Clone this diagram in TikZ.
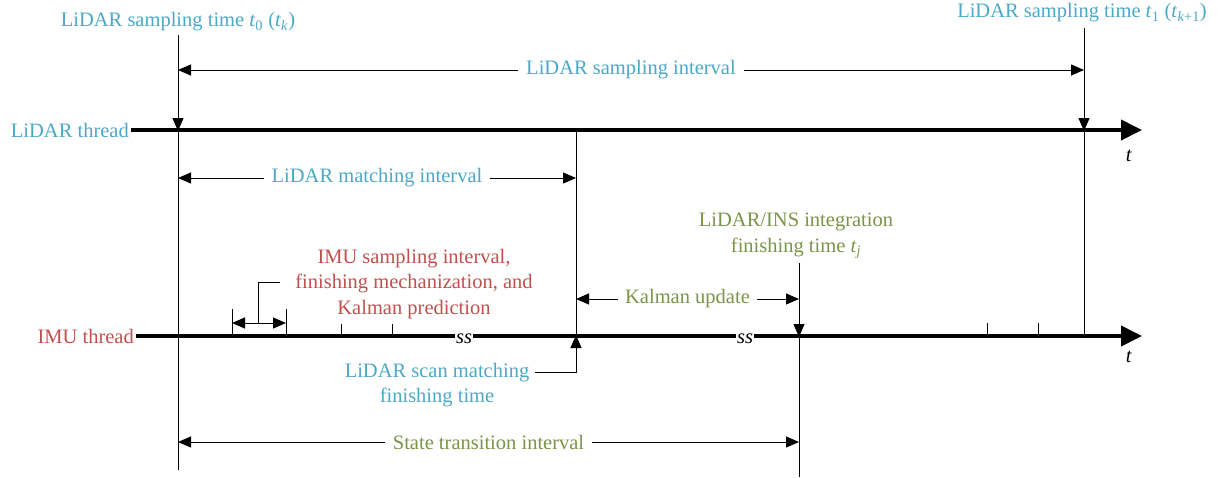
\documentclass[tikz,border=0pt]{standalone}
\usepackage{fontspec}
\setmainfont{Liberation Serif}
\usetikzlibrary{arrows.meta}
\definecolor{lblue}{RGB}{75,168,198}
\definecolor{lred}{RGB}{192,80,77}
\definecolor{lgreen}{RGB}{122,148,72}
\newcommand{\tv}[1]{\textit{t}\textsubscript{#1}}
\begin{document}
\begin{tikzpicture}[x=1pt,y=-1pt,font=\fontsize{20.5}{25.5}\selectfont,
  thread/.style={line width=3.8pt,-{Triangle[length=21pt,width=20pt]}},
  vline/.style={line width=1pt},
  tipdown/.style={line width=1pt,-{Triangle[length=13pt,width=11pt]}},
  iarrow/.style={line width=1pt,{Triangle[length=13pt,width=11pt]}-{Triangle[length=13pt,width=11pt]}},
  ilabel/.style={fill=white,inner sep=4pt},
  ssnode/.style={fill=white,inner sep=1.5pt,font=\fontsize{20.5}{20}\selectfont\itshape}]
\useasboundingbox (0,0) rectangle (1223,477);
% thread labels and lines
\node[anchor=east,text=lblue,inner sep=2pt] (lt) at (131,130) {LiDAR thread};
\node[anchor=east,text=lred,inner sep=2pt] (it) at (136,336) {IMU thread};
\coordinate (LE) at (1142,130);
\coordinate (IE) at (1142,336);
\draw[thread] (lt.east) -- (LE);
\draw[thread] (it.east) -- (IE);
\node (tl) at (1129,156) {\textit{t}};
\node (ti) at (1129,357) {\textit{t}};
% sampling time t0
\node[text=lblue] (s0) at (178,22) {LiDAR sampling time \tv{0} (\tv{\textit{k}})};
\coordinate (a0) at (178,35);
\coordinate (aL) at (178,131);
\coordinate (a1) at (178,470);
\draw[tipdown] (a0) -- (aL);
\draw[vline] (aL) -- (a1);
% sampling time t1
\node[text=lblue] (s1) at (1082,13) {LiDAR sampling time \tv{1} (\tv{\textit{k}+1})};
\coordinate (b0) at (1084,28);
\coordinate (bL) at (1084,131);
\coordinate (bI) at (1084,337);
\draw[tipdown] (b0) -- (bL);
\draw[vline] (bL) -- (bI);
% LiDAR sampling interval
\draw[iarrow] (178,70) -- (1084,70) node[midway,ilabel,text=lblue,inner sep=8pt] (sil) {LiDAR sampling interval};
% matching line
\coordinate (m0) at (576,130);
\coordinate (mI) at (576,336);
\coordinate (m1) at (576,372);
\draw[vline] (m0) -- (mI);
\draw[iarrow] (178,178) -- (576,178) node[midway,ilabel,text=lblue,inner sep=8pt] (mil) {LiDAR matching interval};
% scan matching finishing
\node[text=lblue,align=center] (smf) at (437,385) {LiDAR scan matching\\finishing time};
\coordinate (smc) at (535,372);
\draw[tipdown] (smc) -- (m1) -- (576,335);
% Kalman update
\coordinate (j0) at (799,263);
\coordinate (jI) at (799,337);
\coordinate (j1) at (799,477);
\draw[tipdown] (j0) -- (jI);
\draw[vline] (jI) -- (j1);
\draw[iarrow] (576,299) -- (799,299) node[midway,ilabel,text=lgreen,inner sep=7pt] (ku) {Kalman update};
\node[text=lgreen,align=center] (lins) at (796,236) {LiDAR/INS integration\\finishing time \tv{\textit{j}}};
% state transition
\draw[iarrow] (178,442) -- (799,442) node[midway,ilabel,text=lgreen,inner sep=8pt] (st) {State transition interval};
% IMU ticks
\draw[vline] (232,309) -- (232,336);
\draw[vline] (286,309) -- (286,336);
\draw[iarrow] (232,323) -- (286,323);
\draw[vline] (258,323) -- (258,282) -- (280,282);
\node[text=lred,align=center] (imu) at (414,284) {IMU sampling interval,\\finishing mechanization, and\\Kalman prediction};
\draw[vline] (341,324) -- (341,336);
\draw[vline] (392,324) -- (392,336);
\draw[vline] (987,323) -- (987,336);
\draw[vline] (1038,323) -- (1038,336);
% ss breaks
\node[ssnode] (ss1) at (464,339) {ss};
\node[ssnode] (ss2) at (745,339) {ss};
\end{tikzpicture}
\end{document}
